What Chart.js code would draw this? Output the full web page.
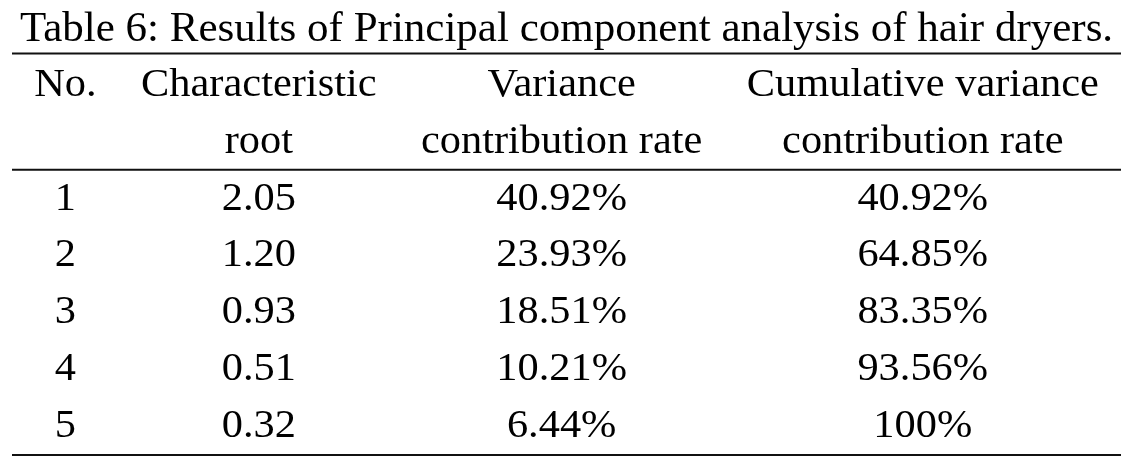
<!DOCTYPE html>
<html>
<head>
<meta charset="utf-8">
<script src="https://cdn.jsdelivr.net/npm/chart.js@4.4.1/dist/chart.umd.min.js"></script>
<style>
  html, body { margin: 0; padding: 0; background: #fff; }
  canvas { display: block; }
</style>
</head>
<body>
<canvas id="tablaPCA" width="1138" height="474"></canvas>
<script>
// datos de la tabla
const titulo = 'Table 6: Results of Principal component analysis of hair dryers.';
const encabezado1 = ['No.', 'Characteristic', 'Variance', 'Cumulative variance'];
const encabezado2 = ['', 'root', 'contribution rate', 'contribution rate'];
const componentes = ['1', '2', '3', '4', '5'];
const raices = [2.05, 1.20, 0.93, 0.51, 0.32];
const varianza = [40.92, 23.93, 18.51, 10.21, 6.44];
const acumulada = [40.92, 64.85, 83.35, 93.56, 100];

// layout (pixeles / unidades de fila)
const FUENTE = '40px "Liberation Serif", "Times New Roman", serif';
const FUENTE_TITULO = '43px "Liberation Serif", "Times New Roman", serif';
const estirar = 1.06; // el texto del original esta un poco ensanchado
const bordeIzq = 12, bordeDer = 1121;
const filaTitulo = -0.96;
const reglas = [-0.75, 1.30, 6.32];

function pct(v) {
    return Number.isInteger(v) ? v + '%' : v.toFixed(2) + '%';
}

// filas de texto: 0 y 1 encabezado, 2..6 datos
const filas = [encabezado1, encabezado2];
componentes.forEach((c, i) => {
    filas.push([c, raices[i].toFixed(2), pct(varianza[i]), pct(acumulada[i])]);
});

// ancho de columnas como en un tabular de LaTeX
const medidor = document.createElement('canvas').getContext('2d');
medidor.font = FUENTE;
const anchos = encabezado1.map((_, c) =>
    Math.max(...filas.map(f => medidor.measureText(f[c]).width * estirar))
);
const suma = anchos.reduce((a, b) => a + b, 0);
const sep = (bordeDer - bordeIzq - suma) / (2 * anchos.length);
const centros = [];
let cursor = bordeIzq;
anchos.forEach(w => {
    centros.push(cursor + sep + w / 2);
    cursor += w + 2 * sep;
});

const celdas = [];
filas.forEach((f, r) => {
    f.forEach((txt, c) => {
        if (txt !== '') celdas.push({ x: centros[c], y: r, texto: txt });
    });
});

const datasets = [{
    label: 'celdas',
    data: celdas,
    pointRadius: 0,
    showLine: false
}];
reglas.forEach(r => {
    datasets.push({
        label: 'regla',
        data: [{ x: bordeIzq, y: r }, { x: bordeDer, y: r }],
        showLine: true,
        borderColor: '#111',
        borderWidth: 2,
        pointRadius: 0
    });
});

const textoTabla = {
    id: 'textoTabla',
    afterDatasetsDraw(chart) {
        const ctx = chart.ctx;
        const meta = chart.getDatasetMeta(0);
        ctx.save();
        ctx.fillStyle = '#000';
        ctx.textAlign = 'center';
        ctx.textBaseline = 'alphabetic';
        ctx.font = FUENTE;
        meta.data.forEach((pt, i) => {
            ctx.save();
            ctx.translate(pt.x, pt.y);
            ctx.scale(estirar, 1);
            ctx.fillText(celdas[i].texto, 0, 0);
            ctx.restore();
        });
        const xs = chart.scales.x, ys = chart.scales.y;
        ctx.font = FUENTE_TITULO;
        ctx.fillText(titulo, xs.getPixelForValue((bordeIzq + bordeDer) / 2), ys.getPixelForValue(filaTitulo));
        ctx.restore();
    }
};

new Chart(document.getElementById('tablaPCA'), {
    type: 'scatter',
    data: { datasets },
    options: {
        responsive: false,
        animation: false,
        layout: { padding: 0 },
        plugins: {
            legend: { display: false },
            tooltip: { enabled: false }
        },
        scales: {
            x: { type: 'linear', min: 0, max: 1138, display: false },
            y: { type: 'linear', min: -1.69, max: 6.655, reverse: true, display: false }
        }
    },
    plugins: [textoTabla]
});
</script>
</body>
</html>
